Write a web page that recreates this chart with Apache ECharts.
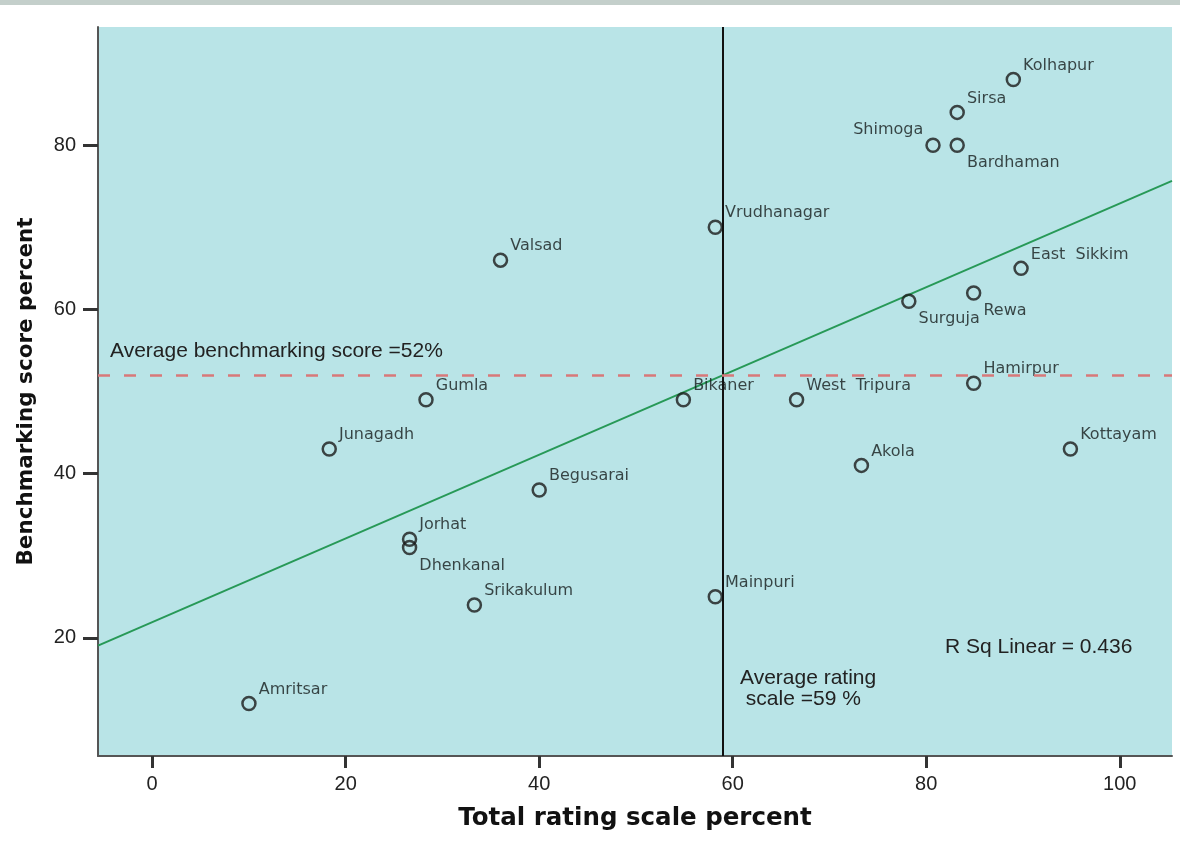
<!DOCTYPE html>
<html>
<head>
<meta charset="utf-8">
<script src="https://cdn.jsdelivr.net/npm/echarts@6.0.0/dist/echarts.min.js"></script>
<style>
  html, body { margin: 0; padding: 0; background: #fff; }
  #chart { width: 1180px; height: 858px; }
</style>
</head>
<body>
<div id="chart"></div>
<script>
// district names, rating scale % (x), benchmarking score % (y)
const districts = [
  "Kolhapur", "Sirsa", "Shimoga", "Bardhaman", "Vrudhanagar", "Valsad",
  "East  Sikkim", "Rewa", "Surguja", "Hamirpur", "Gumla", "Bikaner",
  "West  Tripura", "Junagadh", "Kottayam", "Akola", "Begusarai", "Jorhat",
  "Dhenkanal", "Srikakulum", "Mainpuri", "Amritsar"
];
const ratingPct = [
  89.0, 83.2, 80.7, 83.2, 58.2, 36.0,
  89.8, 84.9, 78.2, 84.9, 28.3, 54.9,
  66.6, 18.3, 94.9, 73.3, 40.0, 26.6,
  26.6, 33.3, 58.2, 10.0
];
const benchPct = [
  88, 84, 80, 80, 70, 66,
  65, 62, 61, 51, 49, 49,
  49, 43, 43, 41, 38, 32,
  31, 24, 25, 12
];

const avgRating = 59;
const avgBench = 52;
// fit line
const fitIntercept = 21.9;
const fitSlope = 0.51;
const rSqText = "R Sq Linear = 0.436";

const xTicks = [0, 20, 40, 60, 80, 100];
const yTicks = [20, 40, 60, 80];
const xMin = -5.6, xMax = 105.4;
const yMin = 5.6, yMax = 94.4;

// where each label sits around its point
const labelBelow = ["Bardhaman", "Rewa", "Surguja", "Dhenkanal"];
const labelLeft = ["Shimoga"];

const pointData = districts.map((name, i) => {
  let label = { position: "right", offset: [0, -14] };
  if (labelBelow.includes(name)) label = { position: "right", offset: [0, 18] };
  if (labelLeft.includes(name)) label = { position: "left", offset: [0, -15] };
  return { name: name, value: [ratingPct[i], benchPct[i]], label: label };
});

const fitData = [
  [xMin, fitIntercept + fitSlope * xMin],
  [xMax, fitIntercept + fitSlope * xMax]
];

const chart = echarts.init(document.getElementById("chart"));
chart.setOption({
  animation: false,
  backgroundColor: "#ffffff",
  grid: {
    left: 98, right: 8, top: 27, bottom: 102,
    show: true, backgroundColor: "#b9e4e7", borderWidth: 0
  },
  xAxis: {
    type: "value", min: xMin, max: xMax,
    name: "Total rating scale percent",
    nameLocation: "middle", nameGap: 50,
    nameTextStyle: { fontFamily: "DejaVu Sans", fontWeight: "bold", fontSize: 24.5, color: "#111" },
    axisLine: { onZero: false, lineStyle: { color: "#555", width: 2 } },
    axisTick: { customValues: xTicks, length: 12, lineStyle: { color: "#333", width: 3 } },
    axisLabel: { customValues: xTicks, margin: 18, fontFamily: "Liberation Sans", fontSize: 20, color: "#222" },
    splitLine: { show: false }
  },
  yAxis: {
    type: "value", min: yMin, max: yMax,
    name: "Benchmarking score percent",
    nameLocation: "middle", nameGap: 61,
    nameTextStyle: { fontFamily: "DejaVu Sans", fontWeight: "bold", fontSize: 21.5, color: "#111" },
    axisLine: { show: true, onZero: false, lineStyle: { color: "#555", width: 2 } },
    axisTick: { show: true, customValues: yTicks, length: 15, lineStyle: { color: "#333", width: 3 } },
    axisLabel: { customValues: yTicks, margin: 22, fontFamily: "Liberation Sans", fontSize: 20, color: "#222" },
    splitLine: { show: false }
  },
  series: [
    {
      type: "line",
      data: fitData,
      symbol: "none",
      silent: true,
      lineStyle: { color: "#279957", width: 2 },
      z: 2
    },
    {
      type: "scatter",
      data: pointData,
      symbol: "circle",
      symbolSize: 13,
      itemStyle: { color: "rgba(0,0,0,0)", borderColor: "#1a1a1a", borderWidth: 2.5 },
      label: {
        show: true,
        formatter: "{b}",
        distance: 2,
        fontFamily: "DejaVu Sans",
        fontSize: 16,
        color: "#151c1c"
      },
      markLine: {
        silent: true,
        symbol: "none",
        label: { show: false },
        data: [
          { xAxis: avgRating, lineStyle: { color: "#111", width: 2, type: "solid" } },
          { yAxis: avgBench, lineStyle: { color: "#d8787a", width: 2.5, type: [12, 14] } }
        ]
      },
      z: 3
    }
  ],
  graphic: [
    { type: "rect", left: 0, top: 0, shape: { width: 1180, height: 5 }, style: { fill: "#c4cfcb" } },
    {
      type: "text", left: 110, top: 341,
      style: { text: "Average benchmarking score =" + avgBench + "%", fontFamily: "Liberation Sans", fontSize: 21, fill: "#222" }
    },
    {
      type: "text", left: 945, top: 637,
      style: { text: rSqText, fontFamily: "Liberation Sans", fontSize: 21, fill: "#222" }
    },
    {
      type: "text", left: 740, top: 668,
      style: { text: "Average rating\n scale =" + avgRating + " %", fontFamily: "Liberation Sans", fontSize: 21, fill: "#222", lineHeight: 21 }
    }
  ]
});
</script>
</body>
</html>
